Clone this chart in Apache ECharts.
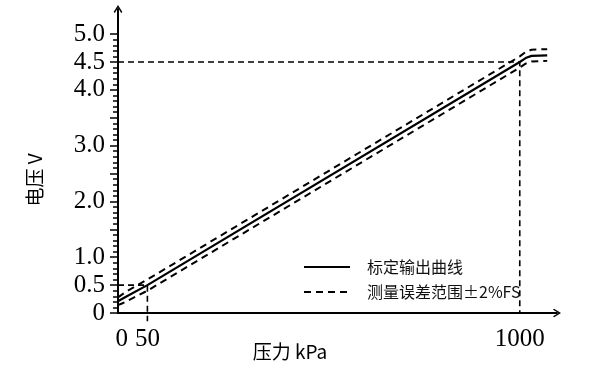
<!DOCTYPE html>
<html>
<head>
<meta charset="utf-8">
<script src="https://cdn.jsdelivr.net/npm/echarts@6/dist/echarts.min.js"></script>
<style>html,body{margin:0;padding:0;background:#fff;}#c{width:600px;height:375px;}</style>
</head>
<body>
<div id="c"></div>
<script>
// ---- data ----
var pressure = [-25, -15, 0, 50, 1000, 1015, 1030, 1070];
var outputV  = [0.21, 0.25, 0.31, 0.5, 4.5, 4.57, 4.61, 4.62];
var upperV   = [0.28, 0.33, 0.40, 0.6, 4.6, 4.68, 4.72, 4.73];
var lowerV   = [0.14, 0.17, 0.22, 0.4, 4.4, 4.47, 4.51, 4.52];
var guideHiX = [-25, 1000, 1000];
var guideHiY = [4.5, 4.5, 0];
var guideLoX = [-25, 50, 50];
var guideLoY = [0.5, 0.5, -0.15];
var yLabels = [0, 0.5, 1.0, 2.0, 3.0, 4.0, 4.5, 5.0];
var yMajorTicks = [0, 0.5, 1.0, 1.5, 2.0, 2.5, 3.0, 3.5, 4.0, 4.5, 5.0];
var xLabels = [0, 50, 1000];
var nameSolid = '标定输出曲线';
var nameDash = '测量误差范围±2%FS';

function zip(xs, ys) { return xs.map(function (x, i) { return [x, ys[i]]; }); }
var yMinorTicks = [];
for (var i = 0; i <= 50; i++) yMinorTicks.push(i / 10);

var arrow = 'path://M5,0 L10,8 L8.6,9.2 L5,2.8 L1.4,9.2 L0,8 Z';
var serif = 'Liberation Serif';
var cjk = 'Noto Sans CJK SC';

var chart = echarts.init(document.getElementById('c'));
chart.setOption({
  animation: false,
  backgroundColor: '#fff',
  grid: { left: 118, right: 43, top: 9, bottom: 62 },
  xAxis: {
    type: 'value', min: -25, max: 1095,
    axisLine: { onZero: false, lineStyle: { color: '#000', width: 2 }, symbol: ['none', arrow], symbolSize: [12, 8] },
    axisTick: { show: false },
    splitLine: { show: false },
    axisLabel: {
      customValues: xLabels, margin: 14, color: '#000', fontFamily: serif, fontSize: 25,
      formatter: function (v) { return v === 0 ? '{z|0}' : String(v); },
      rich: { z: { fontFamily: serif, fontSize: 25, color: '#000', padding: [0, 12, 0, 0] } }
    }
  },
  yAxis: [{
    type: 'value', min: 0, max: 5.45, position: 'left',
    axisLine: { onZero: false, lineStyle: { color: '#000', width: 2 }, symbol: ['none', arrow], symbolSize: [12, 8] },
    axisTick: { customValues: yMajorTicks, length: 8, lineStyle: { color: '#000', width: 1.5 } },
    splitLine: { show: false },
    axisLabel: {
      customValues: yLabels, margin: 13, color: '#000', fontFamily: serif, fontSize: 25,
      formatter: function (v) { return v === 0 ? '0' : v.toFixed(1); }
    }
  }, {
    type: 'value', min: 0, max: 5.45, position: 'left',
    axisLine: { show: false, onZero: false },
    axisTick: { customValues: yMinorTicks, length: 5, lineStyle: { color: '#000', width: 1.5 } },
    axisLabel: { show: false },
    splitLine: { show: false }
  }],
  legend: {
    orient: 'vertical', left: 298, top: 254, itemWidth: 46, itemHeight: 14, itemGap: 9,
    data: [nameSolid, nameDash],
    itemStyle: { color: 'rgba(0,0,0,0)', borderWidth: 0 },
    textStyle: { fontFamily: cjk, fontSize: 16, color: '#111', padding: [0, 0, 0, 12] }
  },
  series: [
    { name: 'g1', type: 'line', data: zip(guideHiX, guideHiY), symbol: 'none', clip: false,
      color: '#000', lineStyle: { color: '#000', width: 1.6, type: [6, 4] } },
    { name: 'g2', type: 'line', data: zip(guideLoX, guideLoY), symbol: 'none', clip: false,
      color: '#000', lineStyle: { color: '#000', width: 1.6, type: [6, 4] } },
    { name: nameSolid, type: 'line', data: zip(pressure, outputV), symbol: 'none', clip: false,
      color: '#000', lineStyle: { color: '#000', width: 2.2 } },
    { name: nameDash, type: 'line', data: zip(pressure, upperV), symbol: 'none', clip: false,
      color: '#000', lineStyle: { color: '#000', width: 2, type: [7, 5] } },
    { name: nameDash, type: 'line', data: zip(pressure, lowerV), symbol: 'none', clip: false,
      color: '#000', lineStyle: { color: '#000', width: 2, type: [7, 5] } }
  ],
  graphic: [
    { type: 'text', x: 35, y: 180, rotation: Math.PI / 2,
      style: { text: '电压 V', fontFamily: cjk, fontSize: 19, fill: '#000', align: 'center', verticalAlign: 'middle' } },
    { type: 'text', x: 290, y: 352,
      style: { text: '压力 kPa', fontFamily: cjk, fontSize: 19, fill: '#000', align: 'center', verticalAlign: 'middle' } }
  ]
});
</script>
</body>
</html>
